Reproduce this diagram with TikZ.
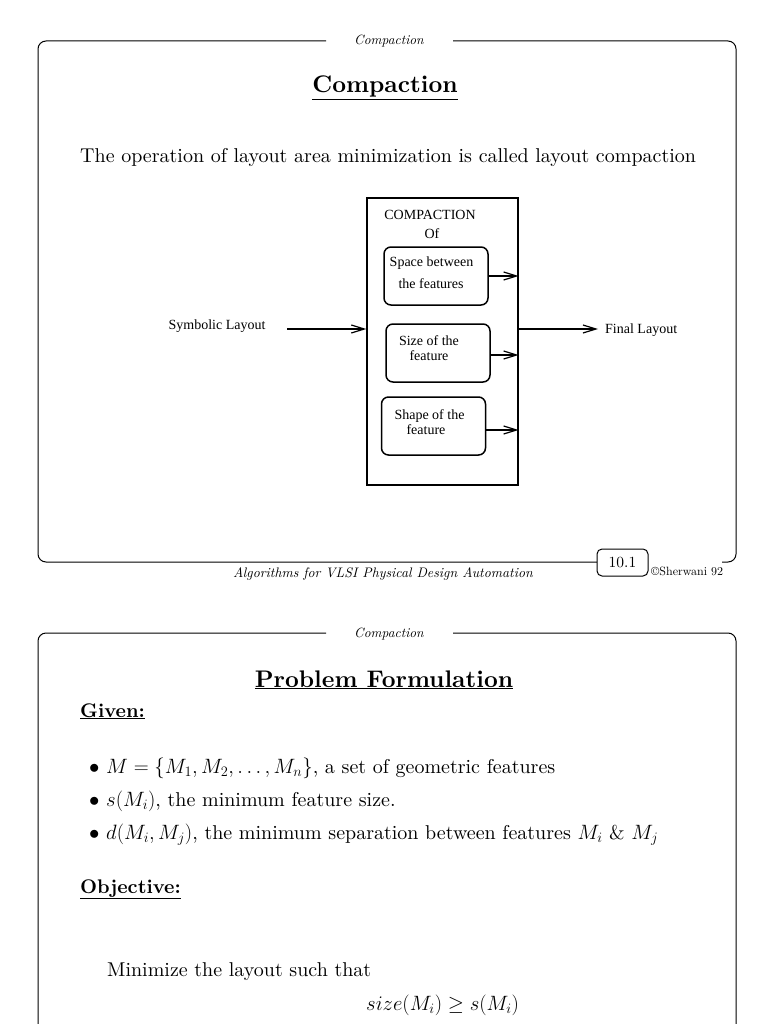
\documentclass[tikz,border=0pt]{standalone}
\usepackage{fontspec}
\setmainfont{lmroman10-regular.otf}[BoldFont=lmroman10-bold.otf, ItalicFont=lmroman10-italic.otf, BoldItalicFont=lmroman10-bolditalic.otf]
\newfontfamily\tms{Liberation Serif}
\usetikzlibrary{arrows.meta}
\begin{document}
\begin{tikzpicture}[x=1pt,y=-1pt,
  frame/.style={line width=1pt, rounded corners=8pt},
  arr/.style={line width=1.2pt, -{Straight Barb[length=13pt,width=8pt,line width=1.2pt]}},
  ibox/.style={draw, line width=1.5pt, rounded corners=7pt, minimum width=104pt, minimum height=58pt, inner sep=0pt},
  dtext/.style={anchor=base, inner sep=0pt, font=\tms\fontsize{14}{16}\selectfont},
  big/.style={anchor=base west, inner sep=0pt, font=\fontsize{20}{24}\selectfont},
  head/.style={anchor=base west, inner sep=0pt, font=\fontsize{19.7}{23}\selectfont\bfseries},
  hdr/.style={anchor=base, inner sep=0pt, font=\fontsize{13.4}{15}\selectfont\itshape},
  ttl/.style={anchor=base, inner sep=0pt, font=\fontsize{24}{28}\selectfont\bfseries}
]
\useasboundingbox (0,0) rectangle (768,1024);
\fill[white] (0,0) rectangle (768,1024);

% ---------- slide 1 frame ----------
\draw[frame] (326,41) -- (38,41) -- (38,562) -- (597,562);
\draw[frame] (453,41) -- (736,41) -- (736,562) -- (722,562);
\node[hdr] (h1) at (389,45) {Compaction};

\node[ttl] (t1) at (385,93) {\underline{Compaction}};
\node[big] (op) at (80,163) {The operation of layout area minimization is called layout compaction};

% ---------- diagram ----------
\node[draw, line width=1.3pt, minimum width=151pt, minimum height=287pt, inner sep=0pt] (cbox) at (442.5,341.5) {};
\node[dtext] (ct) at (430,220) {COMPACTION};
\node[dtext] (of) at (432,238) {Of};

\node[ibox] (b1) at (436,276) {};
\node[dtext] (b1a) at (431.5,266) {Space between};
\node[dtext] (b1b) at (431,288) {the features};

\node[ibox] (b2) at (438,353) {};
\node[dtext] (b2a) at (429,345) {Size of the};
\node[dtext] (b2b) at (429,360) {feature};

\node[ibox] (b3) at (433.5,426) {};
\node[dtext] (b3a) at (429.5,419) {Shape of the};
\node[dtext] (b3b) at (426,434) {feature};

\draw[arr] (b1.east) -- (b1.east -| cbox.east);
\draw[arr] ([yshift=-2pt]b2.east) -- ([yshift=-2pt]b2.east -| cbox.east);
\draw[arr] ([yshift=-4pt]b3.east) -- ([yshift=-4pt]b3.east -| cbox.east);

\coordinate (in) at (287,329);
\coordinate (out) at (598,329);
\draw[arr] (in) -- (in -| cbox.west);
\draw[arr] (cbox.east |- out) -- (out);
\node[dtext] (sym) at (217,329) {Symbolic Layout};
\node[dtext, anchor=base west] (fin) at (605,333) {Final Layout};

% ---------- footer ----------
\node[anchor=base, inner sep=0pt, font=\fontsize{13.8}{16}\selectfont\itshape] (ft) at (383,577) {Algorithms for VLSI Physical Design Automation};
\node[draw, line width=1pt, rounded corners=5pt, minimum width=51pt, minimum height=27pt, inner sep=0pt, fill=white, font=\fontsize{15.5}{17}\selectfont] (pg) at (622.5,562.5) {10.1};
\node[anchor=base west, inner sep=0pt, font=\fontsize{12}{14}\selectfont] (cp) at (651,575) {\copyright Sherwani 92};

% ---------- slide 2 frame ----------
\draw[frame] (326,633) -- (38,633) -- (38,1040);
\draw[frame] (453,633) -- (736,633) -- (736,1040);
\node[hdr] (h2) at (389,637) {Compaction};

\node[ttl] (t2) at (384,687) {\underline{Problem Formulation}};
\node[head] (gv) at (80,717) {\underline{Given:}};
\node[big] (l1) at (89,773) {$\bullet$ $M=\{M_1,M_2,\ldots,M_n\}$, a set of geometric features};
\node[big] (l2) at (89,806) {$\bullet$ $s(M_i)$, the minimum feature size.};
\node[big] (l3) at (89,839) {$\bullet$ $d(M_i,M_j)$, the minimum separation between features $M_i$ \& $M_j$};
\node[head] (ob) at (80,893) {\underline{Objective:}};
\node[big] (mn) at (107,976) {Minimize the layout such that};
\node[big] (eq) at (366,1010) {$size(M_i)\geq s(M_i)$};
\end{tikzpicture}
\end{document}
